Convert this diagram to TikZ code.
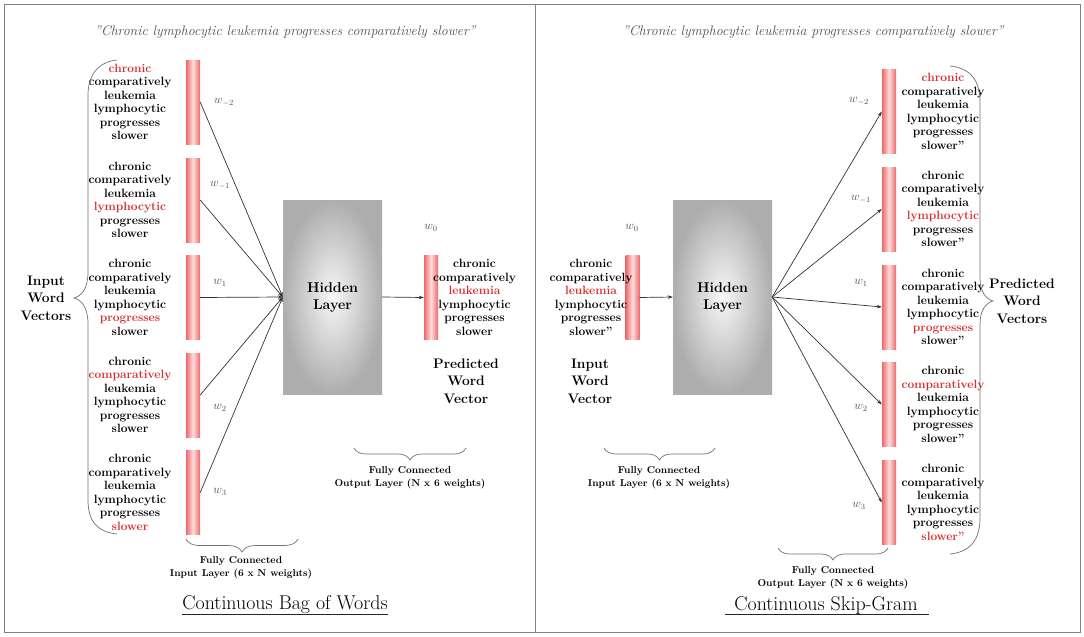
\RequirePackage{fix-cm}
\documentclass[tikz,border=0pt]{standalone}
\usepackage{fontspec}
\usetikzlibrary{arrows.meta,decorations.pathreplacing}
\definecolor{wred}{RGB}{214,45,45}
\definecolor{barred}{RGB}{238,104,106}
\definecolor{barlight}{RGB}{252,222,222}
\definecolor{frame}{RGB}{130,130,130}
\definecolor{labgray}{RGB}{80,80,80}
\newcommand\R[1]{\textcolor{wred}{#1}}
\begin{document}
\begin{tikzpicture}[x=1pt,y=-1pt,
 panel/.style={draw=frame,line width=1pt},
 vecbar/.style={minimum width=14pt,minimum height=84pt,inner sep=0pt,shading=axis,left color=barred,right color=barred,middle color=barlight},
 words/.style={align=center,font=\fontsize{12}{13.5}\selectfont\bfseries,inner sep=0pt},
 big/.style={align=center,font=\fontsize{13.8}{17.5}\selectfont\bfseries,inner sep=0pt},
 small/.style={align=center,font=\fontsize{10}{12.5}\selectfont\bfseries,inner sep=0pt},
 wlab/.style={font=\fontsize{12}{14}\selectfont,text=labgray,inner sep=0pt},
 quotestyle/.style={font=\fontsize{13.9}{16}\selectfont\itshape,text=labgray,inner sep=0pt},
 hidden/.style={minimum width=99pt,minimum height=194pt,inner sep=0pt,shading=radial,inner color=black!3,outer color=black!32,align=center,font=\fontsize{14.2}{17}\selectfont\bfseries},
 conn/.style={draw=black!80,line width=0.7pt,-{Stealth[length=5pt,width=3.5pt]}},
 bracestyle/.style={draw=black!55,line width=0.7pt},
 hbrace/.style={bracestyle,decorate,decoration={brace,amplitude=13pt}},
 ttl/.style={font=\fontsize{19.9}{23}\selectfont,inner sep=0pt},
 uline/.style={line width=1pt,draw=black!85}]
\useasboundingbox (0,0) rectangle (1084,637);
\fill[white] (0,0) rectangle (1084,637);
% panels
\draw[panel] (4,4) rectangle (535,632);
\draw[panel] (535,4) rectangle (1080,632);
% titles
\node[quotestyle] (q1) at (285,32) {''Chronic lymphocytic leukemia progresses comparatively slower''};
\node[quotestyle] (q2) at (813,32) {''Chronic lymphocytic leukemia progresses comparatively slower''};

%%%%%%%%%%%%%%%% CBOW
\node[vecbar] (b1) at (193,102) {};
\node[vecbar] (b2) at (193,200) {};
\node[vecbar] (b3) at (193,297.5) {};
\node[vecbar] (b4) at (193,395) {};
\node[vecbar] (b5) at (193,492.5) {};
\node[words] (l1) at (130,102) {\R{chronic}\\comparatively\\leukemia\\lymphocytic\\progresses\\slower};
\node[words] (l2) at (130,200) {chronic\\comparatively\\leukemia\\\R{lymphocytic}\\progresses\\slower};
\node[words] (l3) at (130,297.5) {chronic\\comparatively\\leukemia\\lymphocytic\\\R{progresses}\\slower};
\node[words] (l4) at (130,395) {chronic\\\R{comparatively}\\leukemia\\lymphocytic\\progresses\\slower};
\node[words] (l5) at (130,492.5) {chronic\\comparatively\\leukemia\\lymphocytic\\progresses\\\R{slower}};
\node[big] (iwv) at (46,298) {Input\\Word\\Vectors};
\node[wlab] (wa1) at (224,102) {$w_{-2}$};
\node[wlab] (wa2) at (220,185) {$w_{-1}$};
\node[wlab] (wa3) at (220,283) {$w_{1}$};
\node[wlab] (wa4) at (220,408) {$w_{2}$};
\node[wlab] (wa5) at (220,492) {$w_{3}$};
\node[hidden] (h) at (332.5,297) {Hidden\\Layer};
\node[vecbar] (o) at (431,297.5) {};
\node[words] (lo) at (474.5,297.5) {chronic\\comparatively\\\R{leukemia}\\lymphocytic\\progresses\\slower};
\node[wlab] (wo) at (431,228) {$w_{0}$};
\node[big] (pwv) at (466,381) {Predicted\\Word\\Vector};
\foreach \b in {b1,b2,b3,b4,b5} \draw[conn] (\b.east) -- (h.west);
\draw[conn] (h.east) -- (o.west);
% braces
\draw[bracestyle] (117,60) .. controls (98,62) and (88,75) .. (88,95) -- (88,272)
  .. controls (88,288) and (82,296) .. (74,298) .. controls (82,300) and (88,308) .. (88,324)
  -- (88,500) .. controls (88,522) and (98,532) .. (117,534);
\coordinate (ci1) at (298,539); \coordinate (ci2) at (186,539);
\draw[hbrace] (ci1) -- (ci2);
\node[small] (fci) at (241,568) {Fully Connected\\Input Layer (6 x N weights)};
\coordinate (co1) at (466,448); \coordinate (co2) at (354,448);
\draw[hbrace,decoration={amplitude=12pt}] (co1) -- (co2);
\node[small] (fco) at (410,478) {Fully Connected\\Output Layer (N x 6 weights)};
\node[ttl] (t1) at (285,605) {Continuous Bag of Words};
\draw[uline] ([yshift=-4.5pt]t1.base west) -- ([yshift=-4.5pt]t1.base east);

%%%%%%%%%%%%%%%% Skip-gram
\node[vecbar] (si) at (632.5,297.5) {};
\node[words] (lsi) at (591,297.5) {chronic\\comparatively\\\R{leukemia}\\lymphocytic\\progresses\\slower''};
\node[wlab] (wsi) at (632,228) {$w_{0}$};
\node[big] (iwv2) at (590,381) {Input\\Word\\Vector};
\node[hidden] (sh) at (722.5,297) {Hidden\\Layer};
\draw[conn] (si.east) -- (sh.west);
\node[vecbar] (s1) at (889,111.5) {};
\node[vecbar] (s2) at (889,209) {};
\node[vecbar] (s3) at (889,307) {};
\node[vecbar] (s4) at (889,404.5) {};
\node[vecbar] (s5) at (889,502.5) {};
\node[words] (m1) at (943,111.5) {\R{chronic}\\comparatively\\leukemia\\lymphocytic\\progresses\\slower''};
\node[words] (m2) at (943,209) {chronic\\comparatively\\leukemia\\\R{lymphocytic}\\progresses\\slower''};
\node[words] (m3) at (943,307) {chronic\\comparatively\\leukemia\\lymphocytic\\\R{progresses}\\slower''};
\node[words] (m4) at (943,404.5) {chronic\\\R{comparatively}\\leukemia\\lymphocytic\\progresses\\slower''};
\node[words] (m5) at (943,502.5) {chronic\\comparatively\\leukemia\\lymphocytic\\progresses\\\R{slower''}};
\foreach \b in {s1,s2,s3,s4,s5} \draw[conn] (sh.east) -- (\b.west);
\node[wlab] (ws1) at (859,101) {$w_{-2}$};
\node[wlab] (ws2) at (861,199) {$w_{-1}$};
\node[wlab] (ws3) at (861,283) {$w_{1}$};
\node[wlab] (ws4) at (861,408) {$w_{2}$};
\node[wlab] (ws5) at (859,506) {$w_{3}$};
\draw[bracestyle] (950,66) .. controls (970,68) and (980,80) .. (980,102) -- (980,278)
  .. controls (980,292) and (986,299) .. (993,301) .. controls (986,303) and (980,310) .. (980,324)
  -- (980,518) .. controls (980,540) and (970,552) .. (950,554);
\node[big] (pwv2) at (1022,301) {Predicted\\Word\\Vectors};
\coordinate (di1) at (715,448); \coordinate (di2) at (604,448);
\draw[hbrace,decoration={amplitude=12pt}] (di1) -- (di2);
\node[small] (fsi) at (659,478) {Fully Connected\\Input Layer (6 x N weights)};
\coordinate (do1) at (888,548); \coordinate (do2) at (778,548);
\draw[hbrace,decoration={amplitude=12pt}] (do1) -- (do2);
\node[small] (fso) at (833,578) {Fully Connected\\Output Layer (N x 6 weights)};
\node[ttl] (t2) at (826,605) {Continuous Skip-Gram};
\draw[uline] ([xshift=-9pt,yshift=-4.5pt]t2.base west) -- ([xshift=11pt,yshift=-4.5pt]t2.base east);
\end{tikzpicture}
\end{document}
